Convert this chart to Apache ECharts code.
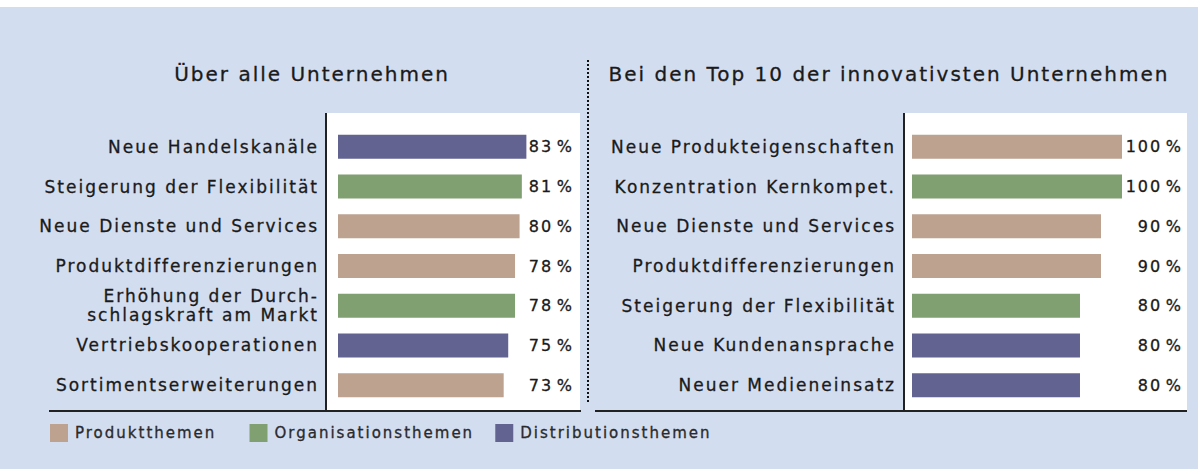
<!DOCTYPE html>
<html>
<head>
<meta charset="utf-8">
<script src="https://cdn.jsdelivr.net/npm/echarts@6/dist/echarts.min.js"></script>
<style>
html, body { margin: 0; padding: 0; background: #fff; }
#chart { width: 1198px; height: 469px; }
/* the original font is set very wide, so spread the letters a bit */
#chart text { letter-spacing: 2px; }
</style>
</head>
<body>
<div id="chart"></div>
<script>
var themeNames = ['Produktthemen', 'Organisationsthemen', 'Distributionsthemen'];
var themeColors = ['#bda28f', '#80a071', '#636391'];

// Über alle Unternehmen
var leftCats = ['Neue Handelskanäle', 'Steigerung der Flexibilität', 'Neue Dienste und Services',
    'Produktdifferenzierungen', 'Erhöhung der Durch-\nschlagskraft am Markt', 'Vertriebskooperationen',
    'Sortimentserweiterungen'];
var leftValues = [83, 81, 80, 78, 78, 75, 73];
var leftThemes = [2, 1, 0, 0, 1, 2, 0];

// Bei den Top 10 der innovativsten Unternehmen
var rightCats = ['Neue Produkteigenschaften', 'Konzentration Kernkompet.', 'Neue Dienste und Services',
    'Produktdifferenzierungen', 'Steigerung der Flexibilität', 'Neue Kundenansprache', 'Neuer Medieneinsatz'];
var rightValues = [100, 100, 90, 90, 80, 80, 80];
var rightThemes = [0, 1, 0, 0, 1, 2, 2];

var font = 'DejaVu Sans';
var ink = '#1a1a1a';
// a hair of outline makes the text look as heavy as the original
var heavy = { textBorderColor: ink, textBorderWidth: 0.3 };

var chart = echarts.init(document.getElementById('chart'), null, { renderer: 'svg' });

function catAxis(gridIndex, cats, margin) {
    return {
        type: 'category', gridIndex: gridIndex, inverse: true, data: cats, z: 10,
        axisLine: { show: false }, axisTick: { show: false },
        axisLabel: Object.assign({ interval: 0, margin: margin, color: ink, fontFamily: font, fontSize: 17, lineHeight: 19 }, heavy)
    };
}

function valueLabelAxis(gridIndex, cats, values) {
    return {
        type: 'category', gridIndex: gridIndex, position: 'right', inverse: true, data: cats, z: 10,
        axisLine: { show: false }, axisTick: { show: false },
        axisLabel: Object.assign({
            interval: 0, margin: 2, align: 'right', color: ink, fontFamily: font, fontSize: 16,
            formatter: function (val, idx) { return values[idx] + '\u200a%'; }
        }, heavy)
    };
}

function themeSeries(gridIndex, values, themes) {
    return themeNames.map(function (name, t) {
        return {
            name: name, type: 'bar', xAxisIndex: gridIndex, yAxisIndex: gridIndex * 2,
            barWidth: 24, barGap: '-100%',
            itemStyle: { color: themeColors[t] },
            data: values.map(function (v, i) { return themes[i] === t ? v : '-'; })
        };
    });
}

var titleStyle = Object.assign({ fontFamily: font, fontSize: 20, fontWeight: 'normal', color: ink }, heavy);

var option = {
    backgroundColor: '#d3ddf0',
    animation: false,
    title: [{
        text: 'Über alle Unternehmen', left: 312, top: 64, textAlign: 'center', padding: 0,
        textStyle: titleStyle
    }, {
        text: 'Bei den Top 10 der innovativsten Unternehmen', left: 889, top: 64, textAlign: 'center', padding: 0,
        textStyle: titleStyle
    }],
    legend: {
        data: themeNames, left: 50, top: 424, padding: 0,
        icon: 'rect', itemWidth: 18, itemHeight: 18, itemGap: 59,
        textStyle: Object.assign({ fontFamily: font, fontSize: 15, color: '#2a2a2a', padding: [0, 0, 0, 2] }, heavy)
    },
    grid: [
        { left: 338, top: 127, width: 234, height: 278 },
        { left: 912, top: 127, width: 269, height: 278 }
    ],
    xAxis: [
        { type: 'value', gridIndex: 0, min: 0, max: 103.1, show: false },
        { type: 'value', gridIndex: 1, min: 0, max: 128.1, show: false }
    ],
    yAxis: [
        catAxis(0, leftCats, 19),
        valueLabelAxis(0, leftCats, leftValues),
        catAxis(1, rightCats, 16),
        valueLabelAxis(1, rightCats, rightValues)
    ],
    graphic: [
        { type: 'rect', z: -1, shape: { x: 0, y: 0, width: 1198, height: 7 }, style: { fill: '#fff' } },
        { type: 'rect', z: -1, shape: { x: 327, y: 113, width: 253, height: 298 }, style: { fill: '#fff' } },
        { type: 'rect', z: -1, shape: { x: 905, y: 113, width: 282, height: 298 }, style: { fill: '#fff' } },
        { type: 'line', shape: { x1: 326, y1: 113, x2: 326, y2: 411 }, style: { stroke: '#222', lineWidth: 2 } },
        { type: 'line', shape: { x1: 904, y1: 113, x2: 904, y2: 411 }, style: { stroke: '#222', lineWidth: 2 } },
        { type: 'line', shape: { x1: 49, y1: 411, x2: 581, y2: 411 }, style: { stroke: '#222', lineWidth: 2 } },
        { type: 'line', shape: { x1: 595, y1: 411, x2: 1187, y2: 411 }, style: { stroke: '#222', lineWidth: 2 } },
        { type: 'line', shape: { x1: 588, y1: 60, x2: 588, y2: 402 }, style: { stroke: '#111', lineWidth: 2, lineDash: [2, 2] } }
    ],
    series: themeSeries(0, leftValues, leftThemes).concat(themeSeries(1, rightValues, rightThemes))
};

chart.setOption(option);
</script>
</body>
</html>
